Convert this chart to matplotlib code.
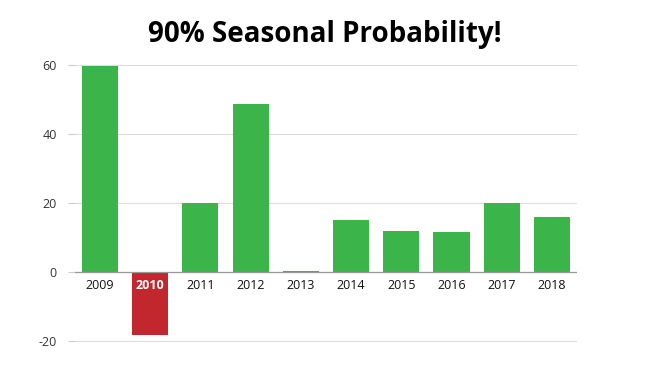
import matplotlib.pyplot as plt

years = ["2009", "2010", "2011", "2012", "2013", "2014", "2015", "2016", "2017", "2018"]
values = [59.8, -18.3, 20.0, 48.7, 0.3, 15.1, 11.9, 11.5, 20.1, 15.9]
y_ticks = [-20, 0, 20, 40, 60]

green = "#3bb54a"
red = "#c1272d"

fig = plt.figure(figsize=(6.5, 3.66), dpi=100)
ax = fig.add_axes([0.115, 0.066, 0.773, 0.758])

colors = [green if v >= 0 else red for v in values]
x = list(range(len(years)))
ax.bar(x, values, width=0.72, color=colors, zorder=2)

ax.set_xlim(-0.5, len(years) - 0.5)
ax.set_ylim(-20.2, 60.2)
ax.set_yticks(y_ticks)
ax.set_yticklabels([str(t) for t in y_ticks], fontsize=9, color="#333333",
                   family="Open Sans")
ax.tick_params(axis="y", length=5, color="#cccccc", pad=8)
ax.set_xticks([])
ax.grid(axis="y", color="#dddddd", linewidth=0.8, zorder=0)
ax.axhline(0, color="#999999", linewidth=0.9, zorder=3)
for s in ax.spines.values():
    s.set_visible(False)

# category labels sit just below the zero line
for i, (yr, v) in enumerate(zip(years, values)):
    ax.annotate(yr, (i, 0), xytext=(0, -5), textcoords="offset points",
                ha="center", va="top", fontsize=9,
                color="white" if v < 0 else "#111111",
                fontweight="bold" if v < 0 else "normal",
                family="Open Sans", zorder=4)

fig.text(0.5, 0.905, "90% Seasonal Probability!", ha="center", va="center",
         fontsize=20, fontweight="bold", family="Open Sans")

fig.savefig("out.png", dpi=100)
